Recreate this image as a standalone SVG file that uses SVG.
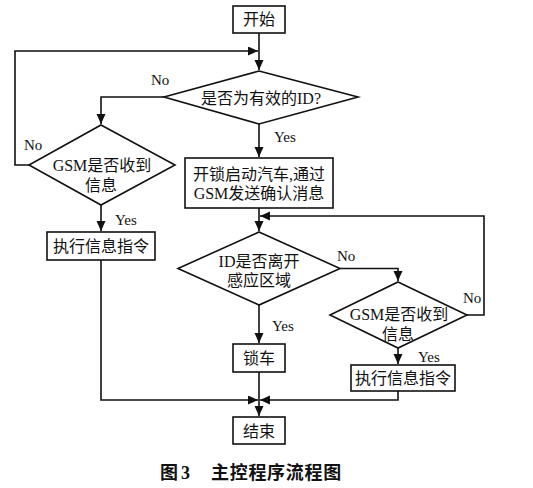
<svg xmlns="http://www.w3.org/2000/svg" width="533" height="488" viewBox="0 0 533 488">
<defs>
<marker id="arr" markerUnits="userSpaceOnUse" markerWidth="11" markerHeight="10" refX="10" refY="4.5" orient="auto">
<path d="M0,0 L10,4.5 L0,9 z" fill="#111"/>
</marker>
<style>
.shape{fill:#fff;stroke:#111;stroke-width:1.6}
.conn{fill:none;stroke:#111;stroke-width:1.6;marker-end:url(#arr)}
.plain{fill:none;stroke:#111;stroke-width:1.6}
text{font-family:"Liberation Serif","Noto Sans CJK SC",serif;fill:#111}
.t{font-size:16px;text-anchor:middle;dominant-baseline:central}
.lbl{font-size:15px;dominant-baseline:central}
.cap{font-size:18px;font-weight:bold;dominant-baseline:central}
</style>
</defs>
<rect width="533" height="488" fill="#fff"/>
<g id="connectors">
<path class="conn" d="M259,33 V70"/>
<path class="conn" d="M29,165 H15 V51 H258"/>
<path class="conn" d="M164,97 H101 V124"/>
<path class="conn" d="M101,205 V231"/>
<path class="conn" d="M101,260 V400 H258"/>
<path class="conn" d="M259,124 V157"/>
<path class="conn" d="M259,208 V231"/>
<path class="conn" d="M467,315 H484 V216 H260"/>
<path class="conn" d="M340,268.5 H398 V281"/>
<path class="conn" d="M398,348 V364"/>
<path class="conn" d="M398,391 V400 H260"/>
<path class="conn" d="M259,305 V343"/>
<path class="conn" d="M259,372 V416"/>
</g>
<g id="start">
<rect class="shape" x="233" y="6" width="52" height="27"/>
<text class="t" x="259" y="19.5">开始</text>
</g>
<g id="validId">
<polygon class="shape" points="259,71 358,97 259,124 164,97"/>
<text class="t" x="261" y="98">是否为有效的ID?</text>
</g>
<g id="gsm1">
<polygon class="shape" points="101,125 175,165 101,205 29,165"/>
<text class="t" x="102" y="165">GSM是否收到</text>
<text class="t" x="101" y="185">信息</text>
</g>
<g id="exec1">
<rect class="shape" x="47" y="232" width="108" height="28"/>
<text class="t" x="101" y="246">执行信息指令</text>
</g>
<g id="unlock">
<rect class="shape" x="185" y="158" width="148" height="50"/>
<text class="t" x="259" y="174">开锁启动汽车,通过</text>
<text class="t" x="259" y="193">GSM发送确认消息</text>
</g>
<g id="leave">
<polygon class="shape" points="259,232 340,268.5 259,305 178,268.5"/>
<text class="t" x="259" y="261">ID是否离开</text>
<text class="t" x="259" y="280">感应区域</text>
</g>
<g id="gsm2">
<polygon class="shape" points="398,282 467,315 398,348 330,315"/>
<text class="t" x="399" y="314">GSM是否收到</text>
<text class="t" x="398" y="334">信息</text>
</g>
<g id="exec2">
<rect class="shape" x="351" y="365" width="104" height="26"/>
<text class="t" x="403" y="378">执行信息指令</text>
</g>
<g id="lock">
<rect class="shape" x="233" y="344" width="52" height="28"/>
<text class="t" x="259" y="358">锁车</text>
</g>
<g id="end">
<rect class="shape" x="233" y="417" width="52" height="27"/>
<text class="t" x="259" y="431">结束</text>
</g>
<g id="labels">
<text class="lbl" x="151" y="80">No</text>
<text class="lbl" x="24" y="145">No</text>
<text class="lbl" x="115" y="220">Yes</text>
<text class="lbl" x="274" y="137">Yes</text>
<text class="lbl" x="337" y="256">No</text>
<text class="lbl" x="463" y="298">No</text>
<text class="lbl" x="272" y="326">Yes</text>
<text class="lbl" x="418" y="357">Yes</text>
</g>
<text class="cap" x="160" y="473">图<tspan x="181">3</tspan><tspan x="211" letter-spacing="0.7">主控程序流程图</tspan></text>
</svg>
